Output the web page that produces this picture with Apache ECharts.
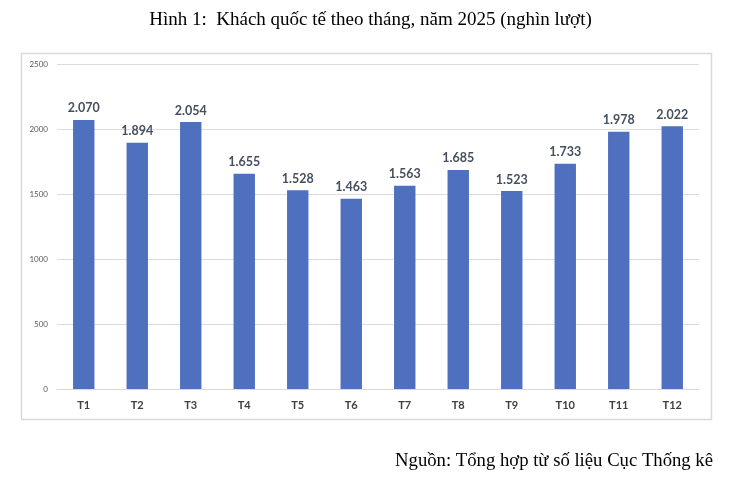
<!DOCTYPE html>
<html><head><meta charset="utf-8">
<script src="https://cdn.jsdelivr.net/npm/echarts@6/dist/echarts.min.js"></script>
<style>html,body{margin:0;padding:0;background:#fff}#c{width:741px;height:480px}</style>
</head><body><div id="c"></div>
<script>
var months = ['T1','T2','T3','T4','T5','T6','T7','T8','T9','T10','T11','T12'];
var visitors = [2070,1894,2054,1655,1528,1463,1563,1685,1523,1733,1978,2022];
var yTicks = {min:0, max:2500, interval:500};
function fmt(v){var s=String(v);return s.length>3?s.slice(0,s.length-3)+'.'+s.slice(-3):s;}
var chart = echarts.init(document.getElementById('c'));
chart.setOption({
  animation:false,
  backgroundColor:'#fff',
  title:[
    {text:'Hình 1:  Khách quốc tế theo tháng, năm 2025 (nghìn lượt)',left:'center',top:6,
     textStyle:{fontFamily:'Liberation Serif',fontSize:19,fontWeight:'normal',color:'#000'}},
    {text:'Nguồn: Tổng hợp từ số liệu Cục Thống kê',right:23,top:447,
     textStyle:{fontFamily:'Liberation Serif',fontSize:18.7,fontWeight:'normal',color:'#000'}}
  ],
  graphic:[{type:'rect',shape:{x:21.5,y:53.5,width:690,height:366},style:{fill:'none',stroke:'#d9d9d9',lineWidth:1.5},silent:true}],
  grid:{left:57,right:42,top:64,bottom:91},
  xAxis:{type:'category',data:months,
    axisLine:{show:true,lineStyle:{color:'#d9d9d9'}},axisTick:{show:false},
    axisLabel:{margin:11,fontFamily:'Lato',fontSize:11,fontWeight:'bold',color:'#404040'}},
  yAxis:{type:'value',min:yTicks.min,max:yTicks.max,interval:yTicks.interval,
    axisLine:{show:false},axisTick:{show:false},
    splitLine:{lineStyle:{color:'#dcdcdc'}},
    axisLabel:{margin:9,fontFamily:'Lato',fontSize:8,color:'#595959',formatter:function(v){return String(v);}}},
  series:[{type:'bar',data:visitors,barWidth:'40%',
    itemStyle:{color:'#4F6FBF'},
    label:{show:true,position:'top',distance:5,formatter:function(p){return fmt(p.value);},
      fontFamily:'Lato',fontSize:12.5,fontWeight:'bold',color:'#44505f'}}]
});
</script></body></html>
